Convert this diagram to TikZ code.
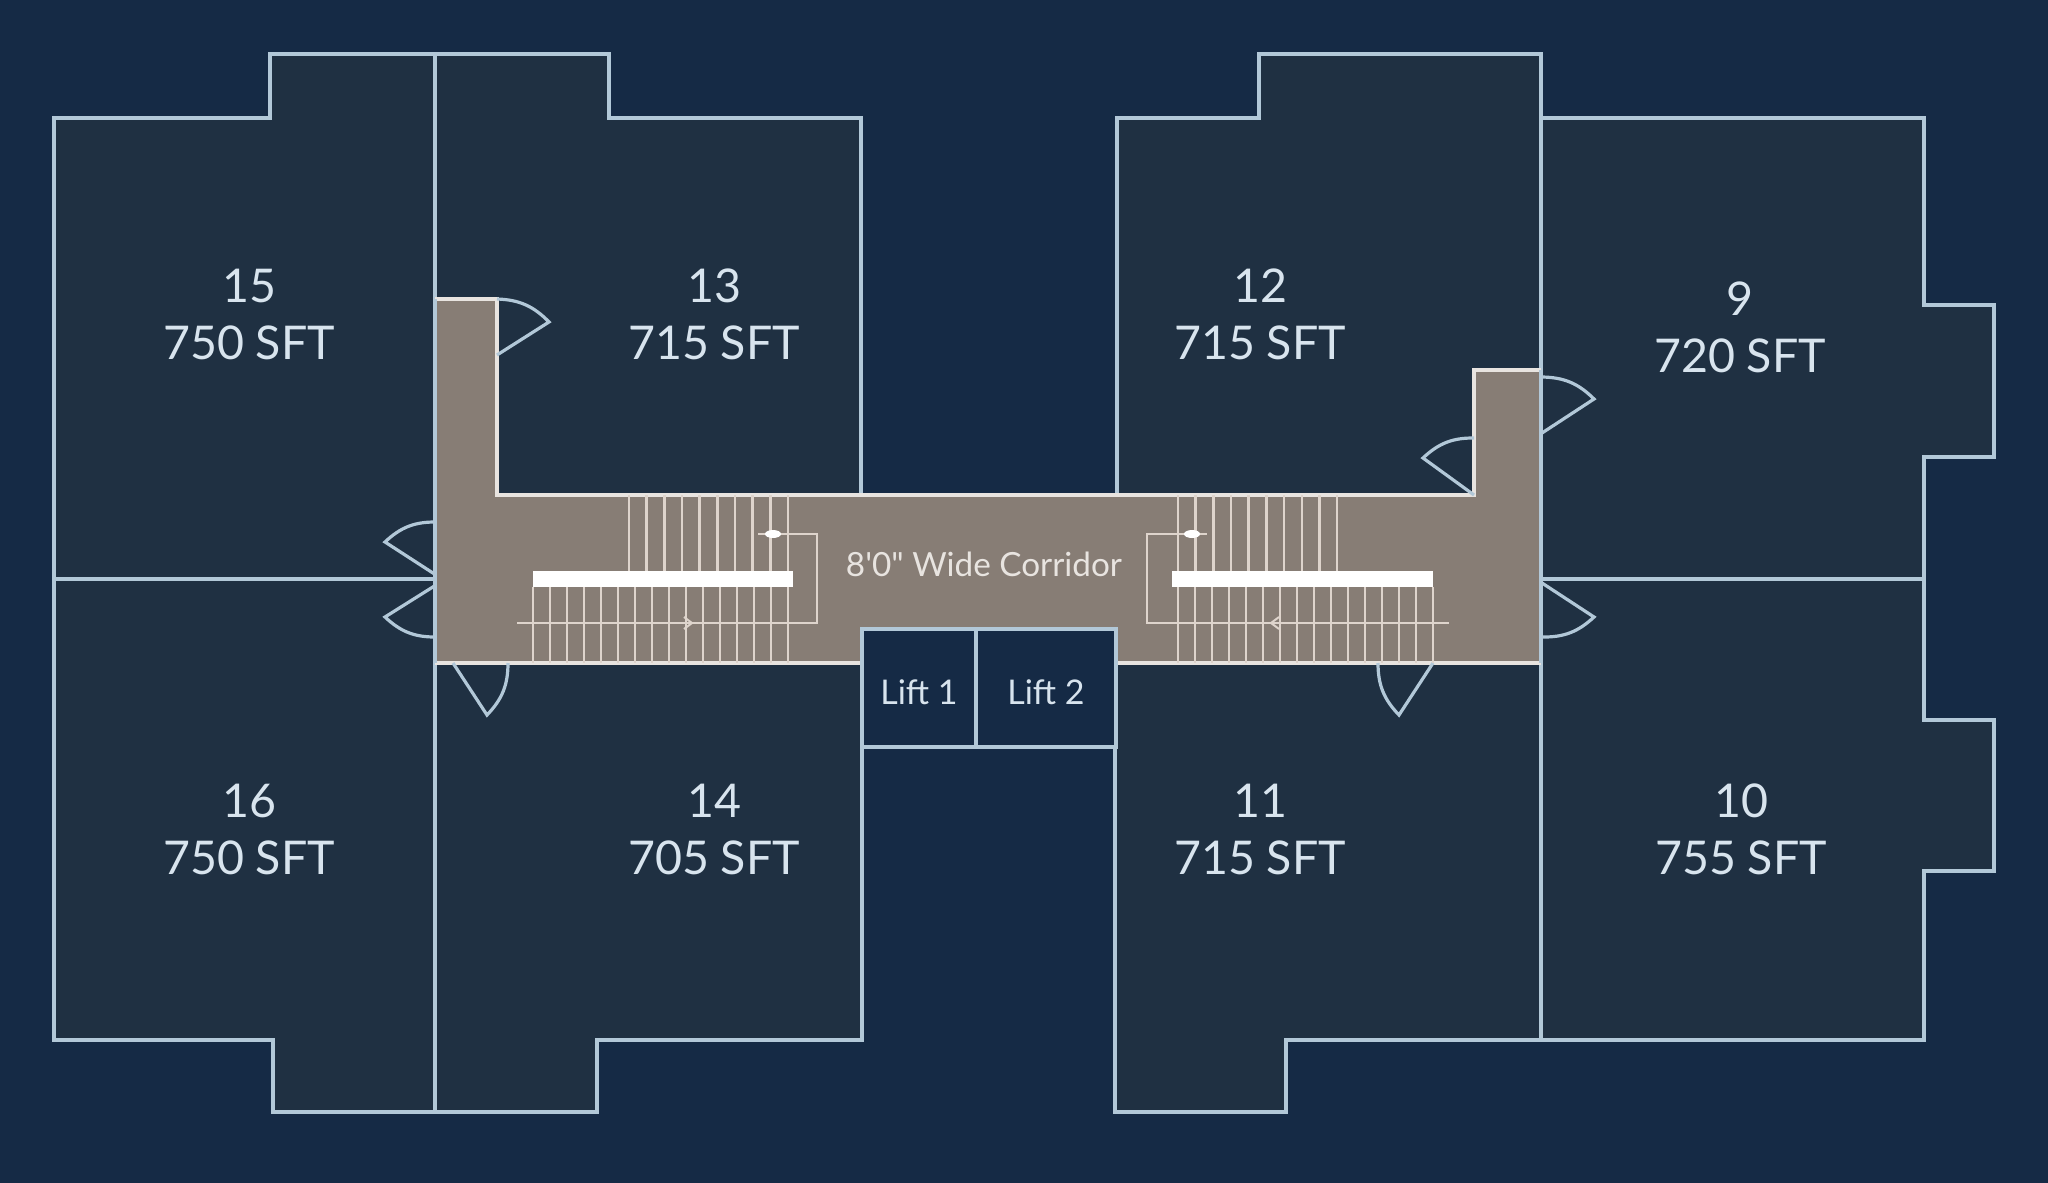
\documentclass[tikz,border=0pt]{standalone}
\usepackage{fontspec}
\usepackage{xcolor}
\newfontfamily\planfont{Lato}
\definecolor{sitecol}{RGB}{21,42,69}
\definecolor{roomcol}{RGB}{31,48,66}
\definecolor{corridorcol}{RGB}{135,125,117}
\definecolor{wallcol}{RGB}{178,200,216}
\definecolor{edgecol}{RGB}{232,228,224}
\definecolor{stepcol}{RGB}{222,212,204}
\definecolor{labelcol}{RGB}{216,228,238}
\tikzset{
  room/.style={fill=roomcol, draw=wallcol, line width=3.6pt, line join=miter},
  doorleaf/.style={draw=wallcol, line width=3.2pt, line join=miter},
  tread/.style={draw=stepcol, line width=2.4pt},
  handrail/.style={draw=stepcol, line width=2pt},
  roomlabel/.style={text=labelcol, align=center, font=\planfont\fontsize{46.5}{57}\selectfont},
  liftlabel/.style={text=labelcol, font=\planfont\fontsize{34}{40}\selectfont}
}
\begin{document}
\begin{tikzpicture}[x=1pt, y=-1pt]
  % Site background fixes the page size
  \fill[sitecol] (0,0) rectangle (2048,1183);
  \useasboundingbox (0,0) rectangle (2048,1183);

  % Apartments, left wing
  \draw[room] (54,118) -- (270,118) -- (270,54) -- (435,54) -- (435,579) -- (54,579) -- cycle;
  \draw[room] (435,54) -- (609,54) -- (609,118) -- (861,118) -- (861,495) -- (435,495) -- cycle;
  \draw[room] (54,579) -- (435,579) -- (435,1112) -- (273,1112) -- (273,1040) -- (54,1040) -- cycle;
  \draw[room] (435,663) -- (862,663) -- (862,1040) -- (597,1040) -- (597,1112) -- (435,1112) -- cycle;

  % Apartments, right wing
  \draw[room] (1117,118) -- (1259,118) -- (1259,54) -- (1541,54) -- (1541,495) -- (1117,495) -- cycle;
  \draw[room] (1541,118) -- (1924,118) -- (1924,305) -- (1994,305) -- (1994,457) -- (1924,457) -- (1924,579) -- (1541,579) -- cycle;
  \draw[room] (1541,579) -- (1924,579) -- (1924,720) -- (1994,720) -- (1994,871) -- (1924,871) -- (1924,1040) -- (1541,1040) -- cycle;
  \draw[room] (1115,663) -- (1541,663) -- (1541,1040) -- (1286,1040) -- (1286,1112) -- (1115,1112) -- cycle;

  % Corridor
  \fill[corridorcol] (436,299) -- (497,299) -- (497,495) -- (1474,495) -- (1474,370) -- (1541,370) -- (1541,663)
    -- (1116,663) -- (1116,629) -- (862,629) -- (862,663) -- (436,663) -- cycle;
  \draw[edgecol, line width=3.2pt] (435,299) -- (497,299) -- (497,495) -- (1474,495) -- (1474,370) -- (1541,370);
  \draw[edgecol, line width=3.2pt] (435,663) -- (862,663);
  \draw[edgecol, line width=3.2pt] (1116,663) -- (1541,663);
  \draw[wallcol, line width=3.6pt] (435,299) -- (435,663);
  \draw[wallcol, line width=3.6pt] (1541,370) -- (1541,663);

  % Lifts
  \draw[room, fill=sitecol] (862,629) rectangle (976,747);
  \draw[room, fill=sitecol] (976,629) rectangle (1116,747);

  % Doors
  \draw[doorleaf] (497,355) -- (549,322) to[bend right=22] (497,299);
  \draw[doorleaf] (436,575) -- (385,542) to[bend left=22] (436,522);
  \draw[doorleaf] (436,585) -- (385,617) to[bend right=22] (436,637);
  \draw[doorleaf] (453,663) -- (487,715) to[bend right=22] (508,663);
  \draw[doorleaf] (1474,495) -- (1423,458) to[bend left=22] (1474,438);
  \draw[doorleaf] (1542,433) -- (1594,399) to[bend right=22] (1542,377);
  \draw[doorleaf] (1542,583) -- (1594,617) to[bend left=22] (1542,637);
  \draw[doorleaf] (1433,663) -- (1399,715) to[bend left=22] (1378,663);

  % Left stair
  \foreach \xpos in {0,...,9} \draw[tread] (629+17.67*\xpos,495) -- (629+17.67*\xpos,572);
  \foreach \xpos in {0,...,15} \draw[tread] (533+17*\xpos,587) -- (533+17*\xpos,663);
  \fill[white] (533,571) rectangle (793,587);
  \draw[handrail] (517,623) -- (817,623) -- (817,534) -- (758,534);
  \draw[handrail] (684,617) -- (692,623) -- (684,629);
  \fill[white] (773,534) ellipse (8 and 4);

  % Right stair
  \foreach \xpos in {0,...,9} \draw[tread] (1178+17.67*\xpos,495) -- (1178+17.67*\xpos,572);
  \foreach \xpos in {0,...,15} \draw[tread] (1178+17*\xpos,587) -- (1178+17*\xpos,663);
  \fill[white] (1172,571) rectangle (1433,587);
  \draw[handrail] (1449,623) -- (1147,623) -- (1147,534) -- (1207,534);
  \draw[handrail] (1279,617) -- (1271,623) -- (1279,629);
  \fill[white] (1192,534) ellipse (8 and 4);

  % Labels
  \node[roomlabel] (flat15) at (249,314) {15\\750 SFT};
  \node[roomlabel] (flat13) at (714,314) {13\\715 SFT};
  \node[roomlabel] (flat12) at (1260,314) {12\\715 SFT};
  \node[roomlabel] (flat9) at (1740,327) {9\\720 SFT};
  \node[roomlabel] (flat16) at (249,829) {16\\750 SFT};
  \node[roomlabel] (flat14) at (714,829) {14\\705 SFT};
  \node[roomlabel] (flat11) at (1260,829) {11\\715 SFT};
  \node[roomlabel] (flat10) at (1741,829) {10\\755 SFT};
  \node[liftlabel] (lift1) at (919,692) {Lift 1};
  \node[liftlabel] (lift2) at (1046,692) {Lift 2};
  \node[text=edgecol, font=\planfont\fontsize{33.3}{40}\selectfont] (corridor) at (984,564) {8'0" Wide Corridor};
\end{tikzpicture}
\end{document}
